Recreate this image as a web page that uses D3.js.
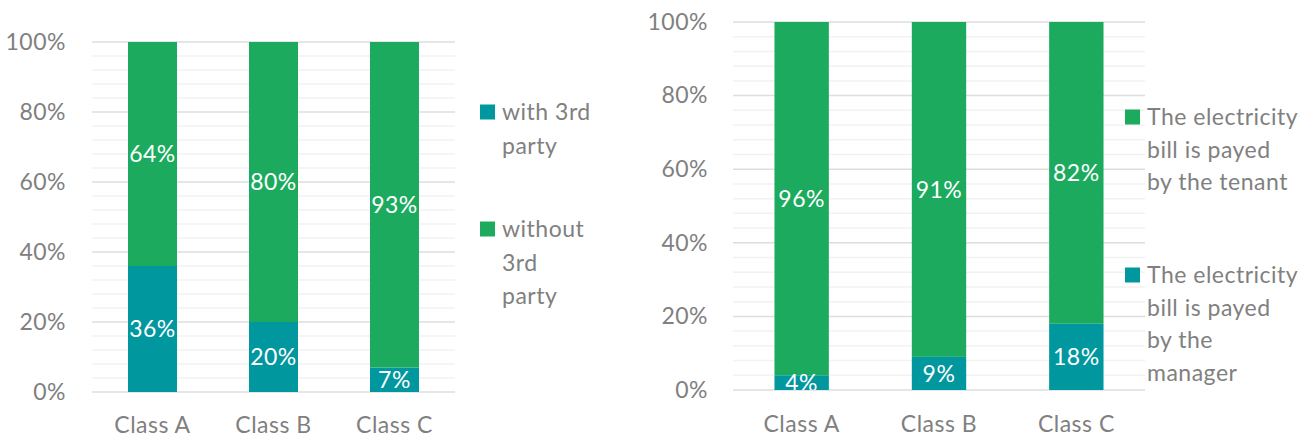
<!DOCTYPE html>
<html>
<head>
<meta charset="utf-8">
<script src="https://cdn.jsdelivr.net/npm/d3@7"></script>
<style>
  html, body { margin: 0; padding: 0; background: #fff; }
  svg { display: block; font-family: Lato, "Open Sans", sans-serif; }
  svg text { letter-spacing: 0.5px; }
</style>
</head>
<body>
<svg id="chart" width="1311" height="438"></svg>
<script>
// Categories shared by both panels
const categories = ["Class A", "Class B", "Class C"];

// Left panel: share of buildings with / without a 3rd party (%)
const with3rdParty = [36, 20, 7];
const without3rdParty = [64, 80, 93];

// Right panel: who pays the electricity bill (%)
const paidByManager = [4, 9, 18];
const paidByTenant = [96, 91, 82];

// Axis ticks (%)
const majorTicks = [0, 20, 40, 60, 80, 100];
const minorTicks = d3.range(0, 101, 4);

const colors = { teal: "#00979f", green: "#1cab5e" };
const textGray = "#808080";
const fontSize = 23;

const svg = d3.select("#chart");

function drawPanel(cfg) {
  const { id, x0, x1, y0, y1, gap, bottomKey, topKey, bottomVals, topVals,
          tickRight, classBaseline, legend } = cfg;

  const rows = categories.map((c, i) => ({
    cat: c, [bottomKey]: bottomVals[i], [topKey]: topVals[i]
  }));
  const stack = d3.stack().keys([bottomKey, topKey])(rows);

  const x = d3.scaleBand().domain(categories).range([x0, x1])
    .paddingInner(gap).paddingOuter(gap / 2);
  const y = d3.scaleLinear().domain([0, 100]).range([y0, y1]);

  const g = svg.append("g");

  // minor gridlines
  g.append("g").selectAll("line")
    .data(minorTicks.filter(t => t % 20 !== 0))
    .join("line")
    .attr("x1", x0).attr("x2", x1)
    .attr("y1", d => y(d)).attr("y2", d => y(d))
    .attr("stroke", "#f2f2f2").attr("stroke-width", 1.5);

  // major gridlines
  g.append("g").selectAll("line")
    .data(majorTicks)
    .join("line")
    .attr("x1", x0).attr("x2", x1)
    .attr("y1", d => y(d)).attr("y2", d => y(d))
    .attr("stroke", "#dedede").attr("stroke-width", 1.5);

  // y axis labels
  const yAxis = d3.axisLeft(y).tickValues(majorTicks)
    .tickFormat(d => d + "%").tickSize(0).tickPadding(0);
  const ya = g.append("g").attr("transform", `translate(${tickRight},0)`).call(yAxis);
  ya.select(".domain").remove();
  ya.selectAll("text").attr("fill", textGray).attr("font-size", fontSize)
    .attr("font-family", "Lato, sans-serif");

  // x axis labels
  const xAxis = d3.axisBottom(x).tickSize(0).tickPadding(0);
  const xa = g.append("g").attr("transform", `translate(0,${classBaseline})`).call(xAxis);
  xa.select(".domain").remove();
  xa.selectAll("text").attr("fill", textGray).attr("font-size", fontSize)
    .attr("dy", 0).attr("font-family", "Lato, sans-serif");

  const fill = { [bottomKey]: colors.teal, [topKey]: colors.green };

  // stacked bars
  g.append("g").selectAll("g")
    .data(stack)
    .join("g")
    .attr("fill", s => fill[s.key])
    .selectAll("rect")
    .data(s => s)
    .join("rect")
    .attr("x", d => x(d.data.cat))
    .attr("width", x.bandwidth())
    .attr("y", d => y(d[1]))
    .attr("height", d => y(d[0]) - y(d[1]));

  // data labels, clipped to the plot area
  svg.append("clipPath").attr("id", id + "-clip")
    .append("rect").attr("x", x0).attr("y", y1 - 20)
    .attr("width", x1 - x0).attr("height", y0 - y1 + 20);

  g.append("g").attr("clip-path", `url(#${id}-clip)`)
    .selectAll("g")
    .data(stack)
    .join("g")
    .selectAll("text")
    .data(s => s.map(d => ({ d, v: d.data[s.key] })))
    .join("text")
    .attr("x", o => x(o.d.data.cat) + x.bandwidth() / 2)
    .attr("y", o => y((o.d[0] + o.d[1]) / 2))
    .attr("dy", "0.36em")
    .attr("text-anchor", "middle")
    .attr("fill", "#fff")
    .attr("font-size", fontSize)
    .text(o => o.v + "%");

  // legend
  const lg = g.append("g");
  legend.items.forEach(item => {
    lg.append("rect")
      .attr("x", legend.x).attr("y", item.y - 7.5)
      .attr("width", 15).attr("height", 15)
      .attr("fill", fill[item.key]);
    const t = lg.append("text")
      .attr("x", legend.x + 22).attr("y", item.y)
      .attr("fill", textGray).attr("font-size", fontSize);
    item.lines.forEach((ln, i) => {
      t.append("tspan").attr("x", legend.x + 22)
        .attr("dy", i === 0 ? "0.36em" : legend.lineH)
        .text(ln);
    });
  });
}

drawPanel({
  id: "left", x0: 92, x1: 455, y0: 392, y1: 42, gap: 0.595,
  bottomKey: "with", topKey: "without",
  bottomVals: with3rdParty, topVals: without3rdParty,
  tickRight: 66, classBaseline: 433,
  legend: {
    x: 480, lineH: 33.5,
    items: [
      { key: "with", y: 112, lines: ["with 3rd", "party"] },
      { key: "without", y: 229, lines: ["without", "3rd", "party"] }
    ]
  }
});

drawPanel({
  id: "right", x0: 733, x1: 1145, y0: 390, y1: 22, gap: 0.604,
  bottomKey: "manager", topKey: "tenant",
  bottomVals: paidByManager, topVals: paidByTenant,
  tickRight: 708, classBaseline: 432,
  legend: {
    x: 1125, lineH: 32.5,
    items: [
      { key: "tenant", y: 117, lines: ["The electricity", "bill is payed", "by the tenant"] },
      { key: "manager", y: 275, lines: ["The electricity", "bill is payed", "by the", "manager"] }
    ]
  }
});
</script>
</body>
</html>
